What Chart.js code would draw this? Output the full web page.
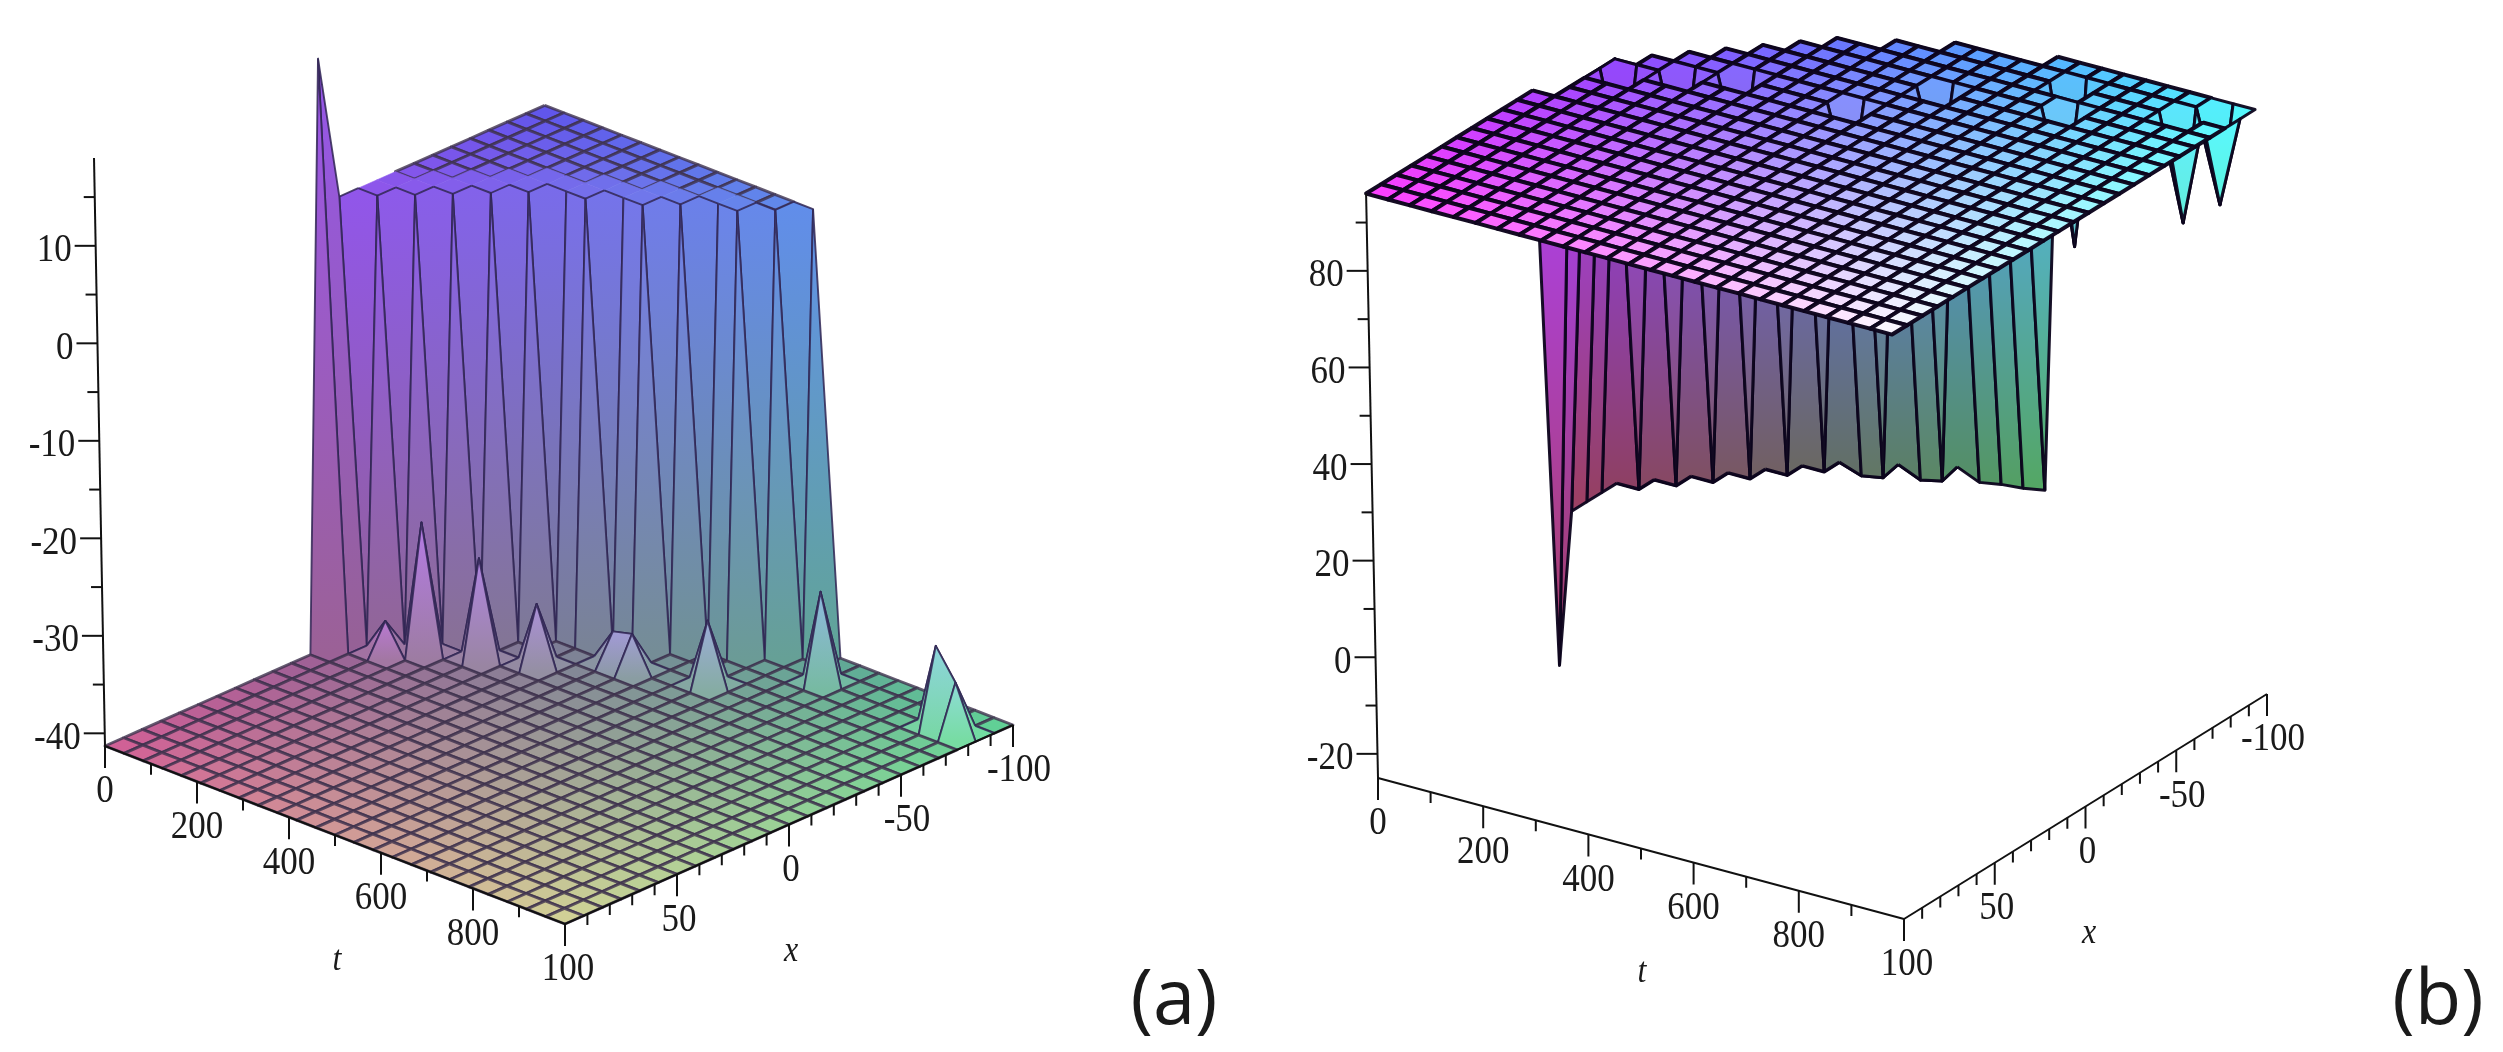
<!DOCTYPE html>
<html><head><meta charset="utf-8">
<style>html,body{margin:0;padding:0;background:#fff}canvas{display:block;filter:blur(.7px)}</style>
<script src="https://cdn.jsdelivr.net/npm/chart.js@4/dist/chart.umd.js"></script>
</head><body><canvas id="c" width="2503" height="1052"></canvas>
<script>
const f=-41.3,p=4,h=96,l=5;
// rows: t index 0..24 (t = 0..1000); columns: x index 0..24 (x = -100..100)
const zA=[
[p,p,p,p,p,p,p,p,p,p,p,p,19,f,f,f,f,f,f,f,f,f,f,f,f],
[p,p,p,p,p,p,p,p,p,p,p,f,f,f,f,f,f,f,f,f,f,f,f,f,f],
[p,p,p,p,p,p,p,p,p,p,f,-38,f,f,f,f,f,f,f,f,f,f,f,f,f],
[p,p,p,p,p,p,p,p,p,f,-28,f,f,f,f,f,f,f,f,f,f,f,f,f,f],
[p,p,p,p,p,p,p,p,f,f,f,f,f,f,f,f,f,f,f,f,f,f,f,f,f],
[p,p,p,p,p,p,p,f,f,-31,f,f,f,f,f,f,f,f,f,f,f,f,f,f,f],
[p,p,p,p,p,p,f,f,f,f,f,f,f,f,f,f,f,f,f,f,f,f,f,f,f],
[p,p,p,p,p,p,f,f,-35,f,f,f,f,f,f,f,f,f,f,f,f,f,f,f,f],
[p,p,p,p,p,f,f,f,f,f,f,f,f,f,f,f,f,f,f,f,f,f,f,f,f],
[p,p,p,p,p,f,-38,f,f,f,f,f,f,f,f,f,f,f,f,f,f,f,f,f,f],
[p,p,p,p,f,f,-37.5,f,f,f,f,f,f,f,f,f,f,f,f,f,f,f,f,f,f],
[p,p,p,f,f,f,f,f,f,f,f,f,f,f,f,f,f,f,f,f,f,f,f,f,f],
[p,p,p,f,f,f,f,f,f,f,f,f,f,f,f,f,f,f,f,f,f,f,f,f,f],
[p,p,f,f,f,-34.7,f,f,f,f,f,f,f,f,f,f,f,f,f,f,f,f,f,f,f],
[p,f,f,f,f,f,f,f,f,f,f,f,f,f,f,f,f,f,f,f,f,f,f,f,f],
[f,f,f,f,f,f,f,f,f,f,f,f,f,f,f,f,f,f,f,f,f,f,f,f,f],
[f,f,-32,f,f,f,f,f,f,f,f,f,f,f,f,f,f,f,f,f,f,f,f,f,f],
[f,f,f,f,f,f,f,f,f,f,f,f,f,f,f,f,f,f,f,f,f,f,f,f,f],
[f,f,f,f,f,f,f,f,f,f,f,f,f,f,f,f,f,f,f,f,f,f,f,f,f],
[f,f,f,f,f,f,f,f,f,f,f,f,f,f,f,f,f,f,f,f,f,f,f,f,f],
[f,f,f,f,f,f,f,f,f,f,f,f,f,f,f,f,f,f,f,f,f,f,f,f,f],
[f,f,f,f,f,f,f,f,f,f,f,f,f,f,f,f,f,f,f,f,f,f,f,f,f],
[f,f,-33,f,f,f,f,f,f,f,f,f,f,f,f,f,f,f,f,f,f,f,f,f,f],
[f,f,-36,f,f,f,f,f,f,f,f,f,f,f,f,f,f,f,f,f,f,f,f,f,f],
[f,f,f,f,f,f,f,f,f,f,f,f,f,f,f,f,f,f,f,f,f,f,f,f,f]];
const zB=[
[l,l,l,l,l,l,l,l,l,l,l,l,-25,h,h,h,h,h,h,h,h,h,h,h,h],
[l,l,l,l,l,l,l,l,l,h,h,h,h,h,h,h,h,h,h,h,h,h,h,h,h],
[l,l,l,l,l,l,l,l,h,h,74,h,h,h,h,h,h,h,h,h,h,h,h,h,h],
[l,l,l,l,l,l,l,h,h,h,h,h,h,h,h,h,h,h,h,h,h,h,h,h,h],
[l,l,l,l,l,l,h,h,h,75,h,h,h,h,h,h,h,h,h,h,h,h,h,h,h],
[l,l,l,l,l,h,h,h,h,h,h,h,h,h,h,h,h,h,h,h,h,h,h,h,h],
[l,l,l,l,h,h,h,h,76,h,h,h,h,h,h,h,h,h,h,h,h,h,h,h,h],
[l,l,3.4,h,h,h,h,h,h,h,h,h,h,h,h,h,h,h,h,h,h,h,h,h,h],
[l,l,4.2,h,h,h,h,h,h,h,h,h,h,h,h,h,h,h,h,h,h,h,h,h,h],
[l,3,h,h,h,h,h,h,h,h,h,h,h,h,h,h,h,h,h,h,h,h,h,h,h],
[l,4,h,h,h,h,h,h,h,h,h,h,h,h,h,h,h,h,h,h,h,h,h,h,h],
[3,h,h,h,h,h,h,h,78,h,h,h,h,h,h,h,h,h,h,h,h,h,h,h,h],
[3.8,h,h,h,h,h,h,h,h,h,h,h,h,h,h,h,h,h,h,h,h,h,h,h,h],
[4.2,h,h,h,h,78,h,h,h,h,h,h,h,h,h,h,h,h,h,h,h,h,h,h,h],
[l,h,h,h,h,h,h,h,h,h,h,h,h,h,h,h,h,h,h,h,h,h,h,h,h],
[h,h,h,h,h,h,h,h,h,h,h,h,h,h,h,h,h,h,h,h,h,h,h,h,h],
[h,h,h,h,h,h,h,h,h,h,h,h,h,h,h,h,h,h,h,h,h,h,h,h,h],
[h,h,63,h,h,h,h,h,h,h,h,h,h,h,h,h,h,h,h,h,h,h,h,h,h],
[h,h,h,h,76,h,h,h,h,h,h,h,h,h,h,h,h,h,h,h,h,h,h,h,h],
[h,h,h,h,h,h,h,h,h,h,h,h,h,h,h,h,h,h,h,h,h,h,h,h,h],
[h,h,h,h,h,h,h,h,h,h,h,h,h,h,h,h,h,h,h,h,h,h,h,h,h],
[h,h,h,h,h,h,h,h,h,h,h,h,h,h,h,h,h,h,h,h,h,h,h,h,h],
[h,h,74,h,h,h,h,h,h,h,h,h,h,h,h,h,h,h,h,h,h,h,h,h,h],
[h,77,h,h,h,h,h,h,h,h,h,h,h,h,h,h,h,h,h,h,h,h,h,h,h],
[h,h,h,h,h,h,h,h,h,h,h,h,h,h,h,h,h,h,h,h,h,h,h,h,h]];
// last x index per t row where panel (a)'s plateau still shows its mesh
const plateauMeshEndA=[9,8,7,6,5,4,4,3,3,2,2,1,1,1,0];
const tValues=[0,41.7,83.3,125,166.7,208.3,250,291.7,333.3,375,416.7,458.3,500,541.7,583.3,625,666.7,708.3,750,791.7,833.3,875,916.7,958.3,1000];
const xValues=[-100,-91.7,-83.3,-75,-66.7,-58.3,-50,-41.7,-33.3,-25,-16.7,-8.3,0,8.3,16.7,25,33.3,41.7,50,58.3,66.7,75,83.3,91.7,100];
const tMajor=[0,200,400,600,800,1000];
const tLabels=["0","200","400","600","800","100"];
const tMinor=[100,300,500,700,900];
const xMajor=[-100,-50,0,50,100];
const xLabels=["-100","-50","0","50",""];
const xMinor=[-90,-80,-70,-60,-40,-30,-20,-10,10,20,30,40,60,70,80,90];
const zTicksA=[10,0,-10,-20,-30,-40];
const zMinorA=[15,5,-5,-15,-25,-35];
const zTicksB=[80,60,40,20,0,-20];
const zMinorB=[90,70,50,30,10,-10];

const viewA={back:[553,547],tStep:[460,178],xStep:[-448,199],zBase:-41.3,zPx:9.75,shear:.0187,zTop:19,
 rgb(i,j,z){const u=Math.max(0,Math.min(1,(z+41.3)/45.3));return [95+115*j/24,(95+115*i/24)*(1-u*.12),150+85*u]},
 line:'rgba(62,50,78,.8)',lw:2.9,wallLine:'rgba(48,38,84,.85)',wallLw:1.9,zT:zTicksA,zM:zMinorA,grid:zA,
 tPos:[337,960],xPos:[791,951],tag:'(a)',tagPos:[1174,1002]};
const viewB={back:[1741,553],tStep:[526,141],xStep:[-363,225],zBase:-25,zPx:4.83,shear:.0204,zTop:96,
 rgb(i,j,z){return [80+175*j/24,60+190*i/24,100+155*Math.max(0,Math.min(1,(z-5)/91))]},
 line:'rgba(12,4,28,.97)',lw:4,wallLine:'rgba(12,4,28,.95)',wallLw:3,zT:zTicksB,zM:zMinorB,grid:zB,
 tPos:[1642,972],xPos:[2089,933],tag:'(b)',tagPos:[2438,1002]};

function proj(v,t,x,z){
 const a=t/1000,b=(x+100)/200,hh=(z-v.zBase)*v.zPx;
 return {x:v.back[0]+a*v.tStep[0]+b*v.xStep[0]-hh*v.shear, y:v.back[1]+a*v.tStep[1]+b*v.xStep[1]-hh};
}
const gctx=document.createElement('canvas').getContext('2d');
const css=(c,a)=>`rgba(${c.map(n=>Math.round(Math.min(255,n))).join(',')},${a})`;
function cellDatasets(v){
 const out=[];
 for(let s=0;s<=46;s++)for(let i=0;i<24;i++){const j=s-i;if(j<0||j>=24)continue;
  const nodes=[[i,j],[i+1,j],[i+1,j+1],[i,j+1]];
  const zs=nodes.map(n=>v.grid[n[0]][n[1]]);
  const pts=nodes.map((n,k)=>proj(v,tValues[n[0]],xValues[n[1]],zs[k]));
  pts.push(pts[0]);
  const zmin=Math.min(...zs),zmax=Math.max(...zs);
  const isSpike=v===viewA&&zmax<0&&zmax>zmin;
  const isWall=zmax-zmin>=1;
  let fill;
  if(!isWall){fill=css(v.rgb(i+.5,j+.5,zmin),1);}
  else{
   const pl=pts[zs.indexOf(zmin)],ph=pts[zs.indexOf(zmax)];
   const g=gctx.createLinearGradient(0,pl.y,0,ph.y===pl.y?pl.y+1:ph.y);
   const base=v.rgb(i+.5,j+.5,zmin),top=v.rgb(i+.5,j+.5,zmax);
   g.addColorStop(0,css(isSpike?base.map(c=>c+12):base,1));
   g.addColorStop(1,css(isSpike?[top[0]+35,top[1]+15,top[2]+55]:top,1));
   fill=g;
  }
  let bare=false;
  if(v===viewA&&!isWall&&zmin>0){
   const e0=plateauMeshEndA[i],e1=plateauMeshEndA[i+1];
   bare=j+1>e0||j+1>e1||e1===undefined;
  }
  out.push({data:pts,showLine:true,fill:'shape',backgroundColor:fill,
   borderColor:bare?fill:(isWall?v.wallLine:v.line),
   borderWidth:bare?.6:(isWall?v.wallLw:v.lw),pointRadius:0,tension:0,clip:false,borderJoinStyle:'round'});
 }
 return out;
}
function seg(p,q,col,w){return {data:[p,q],showLine:true,fill:false,borderColor:col,borderWidth:w,pointRadius:0,clip:false}}
function axisDatasets(v){
 const o=[],c='#111',zb=v.zBase;
 const L=proj(v,0,100,zb),F=proj(v,1000,100,zb),R=proj(v,1000,-100,zb);
 o.push(seg(L,F,c,2),seg(F,R,c,2));
 const T=proj(v,0,100,v.zTop);
 o.push(seg(L,T,c,2));
 const dn=(q,n)=>({x:q.x,y:q.y+n});
 tMajor.forEach(t=>{const q=proj(v,t,100,zb);o.push(seg(q,dn(q,22),c,2))});
 tMinor.forEach(t=>{const q=proj(v,t,100,zb);o.push(seg(q,dn(q,11),c,2))});
 xMajor.forEach(x=>{const q=proj(v,1000,x,zb);o.push(seg(q,dn(q,22),c,2))});
 xMinor.forEach(x=>{const q=proj(v,1000,x,zb);o.push(seg(q,dn(q,11),c,2))});
 const lf=(q,n)=>({x:q.x-n,y:q.y});
 v.zT.forEach(z=>{const q=proj(v,0,100,z);o.push(seg(q,lf(q,21),c,2))});
 v.zM.forEach(z=>{const q=proj(v,0,100,z);o.push(seg(q,lf(q,11),c,2))});
 return o;
}
const labelPlugin={id:'labels',afterDraw(ch){
 const c=ch.ctx,sx=ch.scales.x,sy=ch.scales.y;
 const put=(txt,px,py,font,al,sy2)=>{c.save();c.font=font;c.textAlign=al||'center';c.textBaseline='middle';c.fillStyle='#1a1a1a';
  c.translate(sx.getPixelForValue(px),sy.getPixelForValue(py));c.scale(1,sy2||1.14);c.fillText(txt,0,0);c.restore();};
 const F='35px "Liberation Serif"',I='italic 32px "Liberation Serif"';
 [viewA,viewB].forEach(v=>{
  tMajor.forEach((t,k)=>{const q=proj(v,t,100,v.zBase);put(tLabels[k],q.x+(k==5?3:0),q.y+46,F)});
  xMajor.forEach((x,k)=>{if(!xLabels[k])return;const q=proj(v,1000,x,v.zBase);put(xLabels[k],q.x+(x<0?6:2),q.y+46,F)});
  v.zT.forEach(z=>{const q=proj(v,0,100,z);put(String(z),q.x-24,q.y+5,F,'right')});
  put('t',v.tPos[0],v.tPos[1],I);put('x',v.xPos[0],v.xPos[1],I);
  put(v.tag,v.tagPos[0],v.tagPos[1],'76px "Open Sans"','center',1);
 });
}};
const cells=[...cellDatasets(viewA),...cellDatasets(viewB)];
const axes=[...axisDatasets(viewA),...axisDatasets(viewB)];
// Chart.js paints the first dataset last: axes on top, then cells front to back
const datasets=[...axes,...cells.reverse()];
new Chart(document.getElementById('c'),{type:'scatter',data:{datasets},plugins:[labelPlugin],options:{
 responsive:false,animation:false,events:[],layout:{padding:0},
 plugins:{legend:{display:false},tooltip:{enabled:false}},
 scales:{x:{type:'linear',min:0,max:2503,display:false},y:{type:'linear',min:0,max:1052,reverse:true,display:false}}
}});
</script></body></html>
